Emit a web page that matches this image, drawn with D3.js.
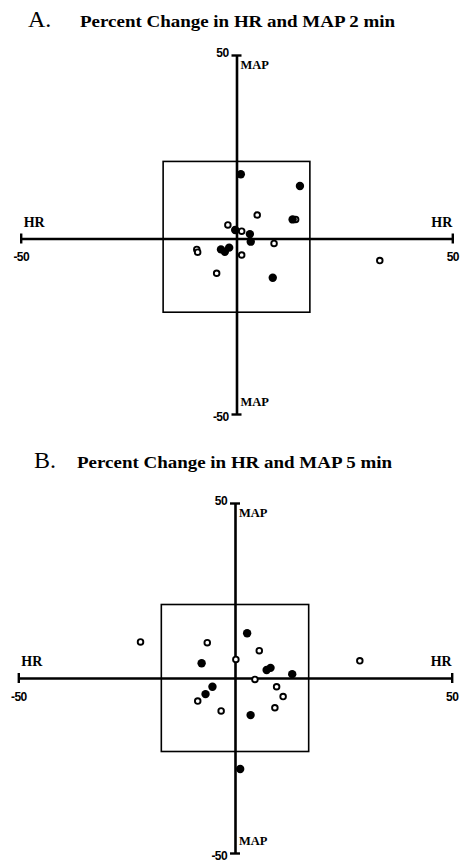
<!DOCTYPE html>
<html>
<head>
<meta charset="utf-8">
<script src="https://cdn.jsdelivr.net/npm/d3@7"></script>
<style>
  body { margin: 0; background: #fff; }
  svg text { font-family: "Liberation Serif", "Times New Roman", serif; fill: #000; }
  .tick text { font-family: "Liberation Sans", Arial, sans-serif; font-weight: bold; font-size: 12px; letter-spacing: -0.6px; }
</style>
</head>
<body>
<div id="chart"></div>
<script>
// percent change values (HR = x, MAP = y)
var axisTicks = [-50, 50];
var boxHR = [-17, 17];
var boxMAP = [-21, 21];

// panel A, 2 min
var aFilledHR  = [1, 14.7, -0.3, 3.1, 3.3, -3.6, -2.7, -1.7, 8.4, 13.0];
var aFilledMAP = [17.5, 14.3, 2.3, 1.2, -0.9, -3.1, -3.8, -2.6, -11.2, 5.2];
var aOpenHR    = [4.8, -2.0, 1.2, 13.7, 8.7, -9.2, -9.0, 1.2, -4.6, 33.2];
var aOpenMAP   = [6.4, 3.7, 2.0, 5.2, -1.4, -3.1, -3.9, -4.7, -9.9, -6.3];

// panel B, 5 min
var bFilledHR  = [2.8, -7.7, 7.3, 8.2, 13.2, -5.2, -6.8, 3.6, 1.2];
var bFilledMAP = [12.8, 4.2, 2.3, 2.9, 1.1, -2.5, -4.6, -10.6, -26];
var bOpenHR    = [-6.4, 5.6, 0.2, 4.6, 9.6, 11.1, -8.6, 9.2, -3.2, -21.8, 28.8];
var bOpenMAP   = [10.1, 7.8, 5.3, -0.4, -2.5, -5.3, -6.6, -8.5, -9.4, 10.3, 4.9];

var W = 463, H = 865;
var svg = d3.select("#chart").append("svg")
  .attr("width", W).attr("height", H);

function drawPanel(p) {
  var x = d3.scaleLinear().domain([-50, 50]).range(p.xr);
  var y = d3.scaleLinear().domain([-50, 0, 50]).range(p.yr);
  var g = svg.append("g");

  // title
  g.append("text").attr("x", p.letterX).attr("y", p.titleY)
    .style("font-size", "24px").text(p.letter);
  g.append("text").attr("x", p.titleX).attr("y", p.titleY)
    .style("font-size", "16px").style("font-weight", "bold")
    .attr("textLength", 315).attr("lengthAdjust", "spacingAndGlyphs")
    .text(p.title);

  // the square
  g.append("rect")
    .attr("x", x(boxHR[0])).attr("y", y(boxMAP[1]))
    .attr("width", x(boxHR[1]) - x(boxHR[0]))
    .attr("height", y(boxMAP[0]) - y(boxMAP[1]))
    .attr("fill", "none").attr("stroke", "#000").attr("stroke-width", 1.6);

  // HR axis
  var xAxis = d3.axisBottom(x).tickValues(axisTicks).tickSizeOuter(0).tickPadding(8)
    .tickFormat(function(d) { return String(d); });
  var gx = g.append("g").attr("transform", "translate(0," + y(0) + ")").call(xAxis);
  gx.select(".domain").attr("stroke-width", 2.6);
  gx.selectAll(".tick line").attr("y1", -5).attr("y2", 5).attr("stroke-width", 2.4);

  // MAP axis
  var yAxis = d3.axisLeft(y).tickValues(axisTicks).tickSizeOuter(0).tickPadding(2)
    .tickFormat(function(d) { return String(d); });
  var gy = g.append("g").attr("transform", "translate(" + x(0) + ",0)").call(yAxis);
  gy.select(".domain").attr("stroke-width", 2.6);
  gy.selectAll(".tick line").attr("x1", -5).attr("x2", 5).attr("stroke-width", 2.4);
  gy.selectAll(".tick text").attr("dy", function(d) { return d > 0 ? "0.1em" : "0.5em"; });

  // axis names
  var lab = g.append("g").style("font-weight", "bold");
  lab.append("text").attr("x", x(-50) + 3).attr("y", y(0) - 12)
    .style("font-size", "14px").text("HR");
  lab.append("text").attr("x", x(50)).attr("y", y(0) - 12)
    .attr("text-anchor", "end").style("font-size", "14px").text("HR");
  lab.append("text").attr("x", x(0) + 4).attr("y", y(50) + 14)
    .style("font-size", "12.5px").text("MAP");
  lab.append("text").attr("x", x(0) + 4).attr("y", y(-50) - 8)
    .style("font-size", "12.5px").text("MAP");

  // points
  g.selectAll("circle.open").data(d3.zip(p.openHR, p.openMAP)).enter()
    .append("circle").attr("class", "open")
    .attr("cx", function(d) { return x(d[0]); })
    .attr("cy", function(d) { return y(d[1]); })
    .attr("r", 2.8)
    .attr("fill", "#fff").attr("stroke", "#000").attr("stroke-width", 1.9);
  g.selectAll("circle.filled").data(d3.zip(p.filledHR, p.filledMAP)).enter()
    .append("circle").attr("class", "filled")
    .attr("cx", function(d) { return x(d[0]); })
    .attr("cy", function(d) { return y(d[1]); })
    .attr("r", 4.2)
    .attr("fill", "#000");
}

drawPanel({
  letter: "A.", title: "Percent Change in HR and MAP 2 min",
  letterX: 28, titleX: 80, titleY: 27,
  xr: [20.7, 452.3], yr: [414, 238.5, 55],
  filledHR: aFilledHR, filledMAP: aFilledMAP, openHR: aOpenHR, openMAP: aOpenMAP
});

drawPanel({
  letter: "B.", title: "Percent Change in HR and MAP 5 min",
  letterX: 34, titleX: 77, titleY: 468,
  xr: [18.3, 451.7], yr: [853, 678, 503],
  filledHR: bFilledHR, filledMAP: bFilledMAP, openHR: bOpenHR, openMAP: bOpenMAP
});
</script>
</body>
</html>
